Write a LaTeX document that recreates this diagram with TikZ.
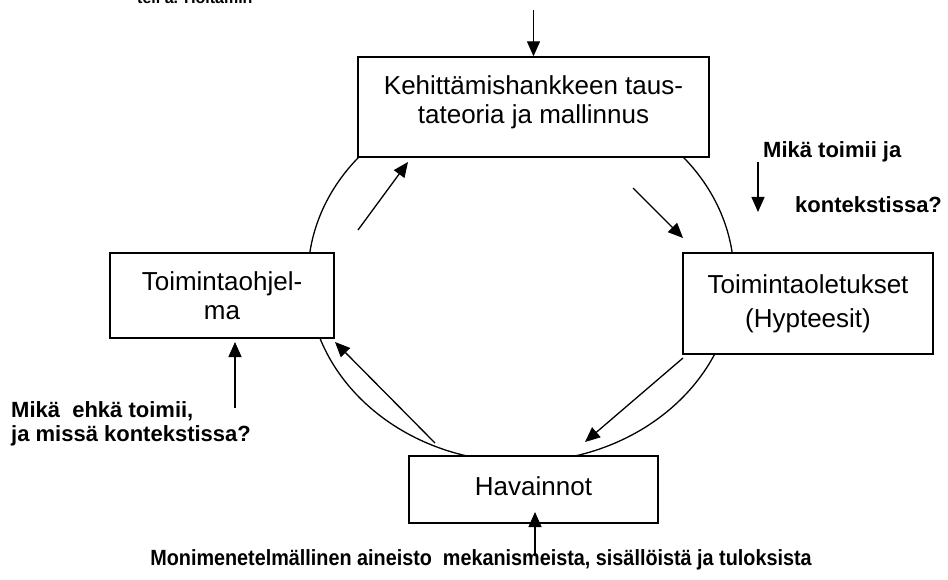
\documentclass[tikz,border=0pt]{standalone}
\usepackage{fontspec}
\setmainfont{Liberation Sans}
\usetikzlibrary{arrows.meta}
\newcommand{\boxfont}{\fontsize{26}{29}\selectfont}
\newcommand{\labfont}{\bfseries\fontsize{22}{24}\selectfont}
\newcommand{\nosta}[2]{\raisebox{#1}[\height][\depth]{\begin{tabular}{@{}c@{}}#2\end{tabular}}}
\begin{document}
\begin{tikzpicture}[
      x=1pt,y=-1pt, %pixels of the reference
      box/.style={draw,line width=1.4pt,fill=white,inner sep=0pt,align=center,font=\boxfont},
      ring/.style={line width=1.3pt},
      lab/.style={inner sep=0pt,align=left,font=\labfont},
      nuoli/.style={line width=1.3pt,-{Triangle[length=15pt,width=13pt]}}
    ]
    \useasboundingbox (0,0) rectangle (948,580);
    %the cycle
    \draw[ring] (521,277) ellipse [x radius=213, y radius=185];
    %the four boxes
    \node[box,minimum width=351pt,minimum height=100pt] (kehitys) at (533.5,107) {\nosta{4pt}{Kehittämishankkeen taus-\\tateoria ja mallinnus}};
    \node[box,minimum width=224pt,minimum height=85pt] (ohjelma) at (222,295.5) {Toimintaohjel-\\ma};
    \node[box,minimum width=250pt,minimum height=101pt] (oletukset) at (808,303.5) {Toimintaoletukset\\[5pt](Hypteesit)};
    \node[box,minimum width=249pt,minimum height=67pt] (havainnot) at (533.5,489.5) {\nosta{0pt}{Havainnot}};
    %arrows inside the cycle
    \coordinate (vy1) at (358,230); \coordinate (vy2) at (408,162);
    \coordinate (oy1) at (633,188); \coordinate (oy2) at (683,238);
    \coordinate (oa1) at (683,358); \coordinate (oa2) at (585,442);
    \coordinate (va1) at (435,443); \coordinate (va2) at (335,342);
    \draw[nuoli] (vy1) -- (vy2);
    \draw[nuoli] (oy1) -- (oy2);
    \draw[nuoli] (oa1) -- (oa2);
    \draw[nuoli] (va1) -- (va2);
    %questions and data
    \node[lab,anchor=west] (toimiiJa) at (763,152) {Mikä toimii ja};
    \node[lab,anchor=west] (kontekstissa) at (795,205) {kontekstissa?};
    \node[lab,anchor=west] (ehka) at (11,424) {Mikä\ \ ehkä toimii,\\ja missä kontekstissa?};
    \node[lab,xscale=0.9,transform shape] (aineisto) at (481,560) {Monimenetelmällinen aineisto\ \ mekanismeista, sisällöistä ja tuloksista};
    \begin{scope}
      \clip (100,0) rectangle (300,6);
      \node[lab,anchor=base west,font=\bfseries\fontsize{16}{18}\selectfont] (ylaTeksti) at (137,4) {teli a. Hoitamin};
    \end{scope}
    %arrows from outside
    \coordinate (ylaAlku) at (533.5,10);
    \coordinate (oikeaAlku) at (758,162); \coordinate (oikeaLoppu) at (758,212);
    \coordinate (vasenAlku) at (235,408); \coordinate (vasenLoppu) at (235,342);
    \coordinate (alaAlku) at (535,556); \coordinate (alaLoppu) at (535,512);
    \draw[nuoli] (ylaAlku) -- (kehitys.north);
    \draw[nuoli] (oikeaAlku) -- (oikeaLoppu);
    \draw[nuoli] (vasenAlku) -- (vasenLoppu);
    \draw[nuoli] (alaAlku) -- (alaLoppu);
\end{tikzpicture}
\end{document}
